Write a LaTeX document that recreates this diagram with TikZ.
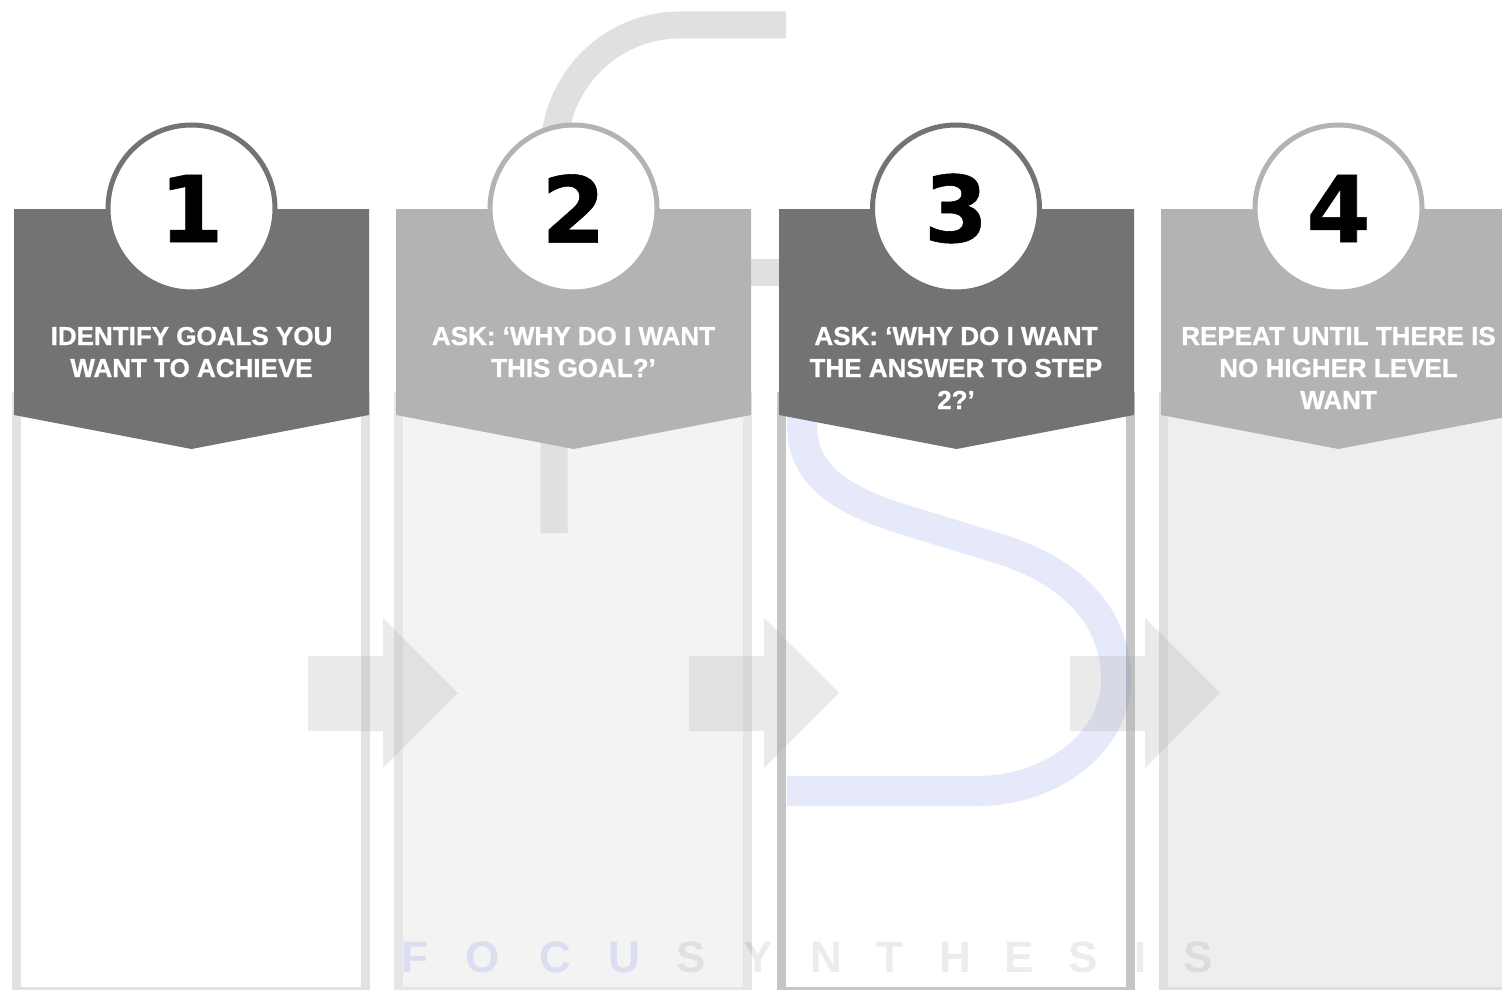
\documentclass[tikz,border=0pt]{standalone}
\usepackage{fontspec}
\setmainfont{Liberation Sans}
\newfontfamily\digitfont{DejaVu Sans Bold}[FakeBold=0.6]
\newfontfamily\headfont{Liberation Sans Bold}[FakeBold=0.9]
\definecolor{hdark}{HTML}{737373}
\definecolor{hlight}{HTML}{B3B3B2}
\definecolor{bordA}{HTML}{E2E2E2}
\definecolor{bordB}{HTML}{E6E6E6}
\definecolor{bordC}{HTML}{C6C6C6}
\definecolor{bordD}{HTML}{E0E0E0}
\definecolor{fillB}{HTML}{F3F3F3}
\definecolor{fillD}{HTML}{EEEEEE}
\definecolor{hookgray}{HTML}{E0E0E0}
\definecolor{wmblue}{RGB}{88,108,228}
\definecolor{arrowgray}{RGB}{163,163,163}
\begin{document}
\begin{tikzpicture}[x=1pt,y=-1pt,
  bodybox/.style={line width=9pt},
  numcircle/.style={circle, line width=5pt, fill=white, minimum size=167pt, inner sep=0pt,
    font=\digitfont\fontsize{92}{92}\selectfont, text=black},
  htext/.style={text=white, font=\headfont\fontsize{26}{32}\selectfont, anchor=base, inner sep=0pt},
  hookline/.style={draw=hookgray, line cap=butt},
  sline/.style={draw=wmblue, draw opacity=0.15, line width=30pt, line cap=butt, line join=round},
  arrowblock/.style={fill=arrowgray, fill opacity=0.22},
  wm/.style={font=\fontsize{44}{44}\selectfont\bfseries, anchor=base, inner sep=0pt},
  wmb/.style={wm, text=wmblue, text opacity=0.15},
  wmg/.style={wm, text=black, text opacity=0.075}
]
\useasboundingbox (0,0) rectangle (1502,990);
\clip (0,0) rectangle (1502,990);
\fill[white] (0,0) rectangle (1502,990);

% column bodies
\filldraw[bodybox, fill=white, draw=bordA] (16.5,396.5) rectangle (365,991.5);
\filldraw[bodybox, fill=fillB, draw=bordB] (398.5,396.5) rectangle (747,991.5);
\filldraw[bodybox, fill=white, draw=bordC] (781.5,396.5) rectangle (1130,991.5);
\filldraw[bodybox, fill=fillD, draw=bordD] (1163.5,396.5) rectangle (1512,991.5);

% background hook
\draw[hookline, line width=27pt] (786,25) -- (680,25) .. controls (610,25) and (554,82) .. (554,152) -- (554,533);
\draw[hookline, line width=27pt] (554,272) -- (800,272);

% blue S curve
\draw[sline] (802,395) -- (802,425) .. controls (802,478) and (845,501) .. (905,520)
  -- (1000,549) .. controls (1070,571) and (1116,615) .. (1116,680)
  .. controls (1116,741) and (1053,791) .. (977,791) -- (787,791);

% arrows
\foreach \d in {0,381,762}
  \fill[arrowblock] ({308+\d},656) -- ({383+\d},656) -- ({383+\d},618) -- ({458+\d},693)
    -- ({383+\d},768) -- ({383+\d},731) -- ({308+\d},731) -- cycle;

% watermark
\node[wmb] (wF) at (415,972) {F};
\node[wmb] (wO) at (483,972) {O};
\node[wmb] (wC) at (555,972) {C};
\node[wmb] (wU) at (624,972) {U};
\node[wmg] (wS1) at (691,972) {S};
\node[wmg] (wY) at (758,972) {Y};
\node[wmg] (wN) at (826,972) {N};
\node[wmg] (wT) at (890,972) {T};
\node[wmg] (wH) at (955,972) {H};
\node[wmg] (wE) at (1019,972) {E};
\node[wmg] (wS2) at (1083,972) {S};
\node[wmg] (wI) at (1141,972) {I};
\node[wmg] (wS3) at (1198,972) {S};

% headers
\fill[hdark] (14,209) -- (369,209) -- (369,415) -- (191.5,449) -- (14,415) -- cycle;
\fill[hlight] (396,209) -- (751,209) -- (751,415) -- (573.5,449) -- (396,415) -- cycle;
\fill[hdark] (779,209) -- (1134,209) -- (1134,415) -- (956.5,449) -- (779,415) -- cycle;
\fill[hlight] (1161,209) -- (1516,209) -- (1516,415) -- (1338.5,449) -- (1161,415) -- cycle;

% number circles
\node[numcircle, draw=hdark] (n1) at (191.5,208.5) {1};
\node[numcircle, draw=hlight] (n2) at (573.5,208.5) {2};
\node[numcircle, draw=hdark] (n3) at (956,208.5) {3};
\node[numcircle, draw=hlight] (n4) at (1338.5,208.5) {4};

% header texts
\node[htext] (t1a) at (191.5,345) {IDENTIFY GOALS YOU};
\node[htext] (t1b) at (191.5,377) {WANT TO ACHIEVE};
\node[htext] (t2a) at (573.5,345) {ASK: ‘WHY DO I WANT};
\node[htext] (t2b) at (573.5,377) {THIS GOAL?’};
\node[htext] (t3a) at (956,345) {ASK: ‘WHY DO I WANT};
\node[htext] (t3b) at (956,377) {THE ANSWER TO STEP};
\node[htext] (t3c) at (956,409) {2?’};
\node[htext] (t4a) at (1338.5,345) {REPEAT UNTIL THERE IS};
\node[htext] (t4b) at (1338.5,377) {NO HIGHER LEVEL};
\node[htext] (t4c) at (1338.5,409) {WANT};
\end{tikzpicture}
\end{document}
